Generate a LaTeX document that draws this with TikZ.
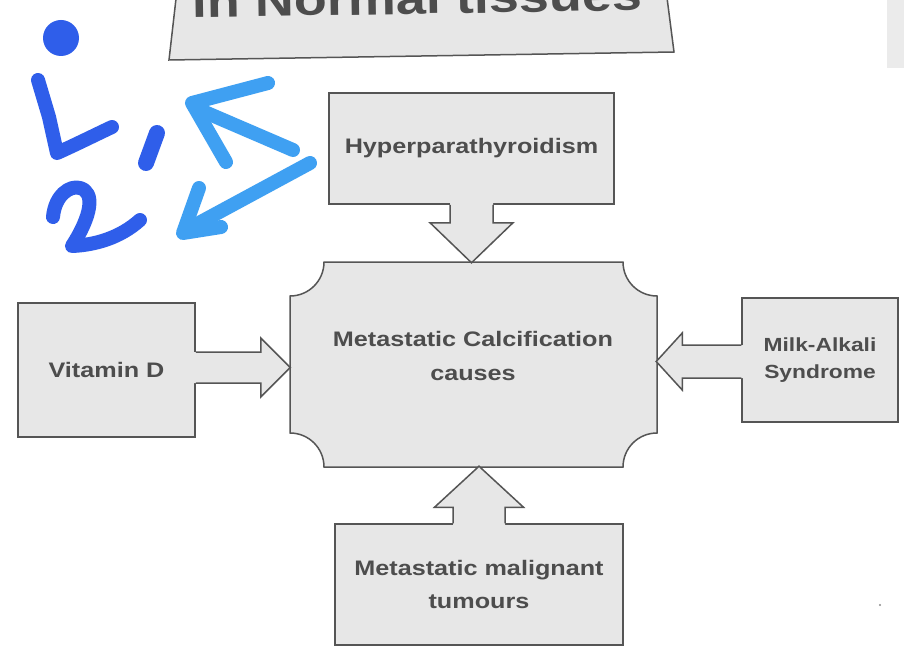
\documentclass[tikz,border=0pt]{standalone}
\usepackage{fontspec}
\newfontfamily\labfont{Liberation Sans}[FakeStretch=1.2]
\usetikzlibrary{calc}
\definecolor{boxfill}{HTML}{E7E7E7}
\definecolor{boxline}{HTML}{555555}
\definecolor{txtgrey}{HTML}{4D4D4D}
\definecolor{inkblue}{HTML}{2F5EEA}
\definecolor{skyblue}{HTML}{3FA0F2}
\tikzset{
  box/.style={draw=boxline, fill=boxfill, line width=1.5pt, inner sep=0pt, align=center, text=txtgrey},
  frame/.style={draw=none, inner sep=0pt},
  lbl/.style={inner sep=0pt, align=center, text=txtgrey, font=\labfont\bfseries\fontsize{21}{34}\selectfont},
  arrline/.style={draw=boxline, line width=1.5pt},
  ink/.style={draw=inkblue, line width=14pt, line cap=round, line join=round},
  sky/.style={draw=skyblue, line width=14pt, line cap=round, line join=round}
}
% #1 start, #2 angle, #3 shaft length, #4 head length, #5 shaft half width, #6 head half width
\newcommand\blockarr[6]{%
  \begin{scope}[shift={#1}, rotate=#2]
    \fill[boxfill] (-2,-#5) -- (#3,-#5) -- (#3,-#6) -- ({#3+#4},0) -- (#3,#6) -- (#3,#5) -- (-2,#5) -- cycle;
    \draw[arrline] (0,-#5) -- (#3,-#5) -- (#3,-#6) -- ({#3+#4},0) -- (#3,#6) -- (#3,#5) -- (0,#5);
  \end{scope}}
\begin{document}
\begin{tikzpicture}[x=1pt, y=-1pt]
\useasboundingbox (0,0) rectangle (904,655);
\fill[white] (0,0) rectangle (904,655);
\clip (0,0) rectangle (904,655);

% faint page remnant at top right
\fill[black!8] (887,0) rectangle (904,68);
\fill[black!45] (880,605) circle (1.2);

% top box (cut off)
\filldraw[fill=boxfill, draw=boxline, line width=1.5pt] (177,-10) -- (169,60) -- (674,52) -- (666,-10) -- cycle;
\node[lbl, font=\labfont\bfseries\fontsize{45}{50}\selectfont, anchor=base, rotate=0.9] (toptxt) at (418,14) {in Normal tissues};

% boxes
\node[box, minimum width=285pt, minimum height=111pt, font=\labfont\bfseries\fontsize{21}{34}\selectfont] (hyper) at (471.5,148.5) {Hyperparathyroidism};
\node[box, minimum width=177pt, minimum height=134pt, font=\labfont\bfseries\fontsize{21}{34}\selectfont] (vitd) at (106.5,370) {Vitamin D};
\node[box, minimum width=156pt, minimum height=124pt, font=\labfont\bfseries\fontsize{19}{27}\selectfont] (milk) at (820,360) {Milk-Alkali\\Syndrome};
\node[box, minimum width=288pt, minimum height=121pt, font=\labfont\bfseries\fontsize{21}{33}\selectfont] (tum) at (479,584.5) {Metastatic malignant\\tumours};

% central box with concave corners
\filldraw[fill=boxfill, draw=boxline, line width=1.5pt]
  (324,262) -- (623,262)
  .. controls (623,280.8) and (638.2,296) .. (657,296)
  -- (657,433)
  .. controls (638.2,433) and (623,448.2) .. (623,467)
  -- (324,467)
  .. controls (324,448.2) and (308.8,433) .. (290,433)
  -- (290,296)
  .. controls (308.8,296) and (324,280.8) .. (324,262) -- cycle;
\node[frame, minimum width=367pt, minimum height=205pt] (center) at (473.5,364.5) {};
\node[lbl] (centertxt) at (473,356) {Metastatic Calcification\\causes};

% block arrows
\blockarr{(hyper.south)}{-90}{18}{40}{21.5}{41.5}
\blockarr{($(vitd.east)+(0,-2.5)$)}{0}{65}{29.5}{15.5}{29.5}
\blockarr{($(milk.west)+(0,1.5)$)}{180}{59}{26}{16.5}{28.5}
\blockarr{(tum.north)}{90}{16}{41}{26}{44.5}

% handwritten blue annotations
\fill[inkblue] (61,38) circle (18);
\draw[ink] (38,80) -- (49,117) -- (57,153) .. controls (75,145) and (95,135) .. (112,127);
\draw[ink, line width=16pt] (157,133) -- (146,163);
\draw[ink] (53,217) .. controls (55,195) and (70,185) .. (80,188)
  .. controls (95,192) and (92,215) .. (72,246)
  .. controls (95,245) and (120,238) .. (140,220);
\draw[sky] (293,150) -- (200,110);
\draw[sky] (268,83) -- (192,103) -- (226,162);
\draw[sky] (310,163) -- (186,230);
\draw[sky] (199,188) -- (183,233) -- (221,227);
\end{tikzpicture}
\end{document}
